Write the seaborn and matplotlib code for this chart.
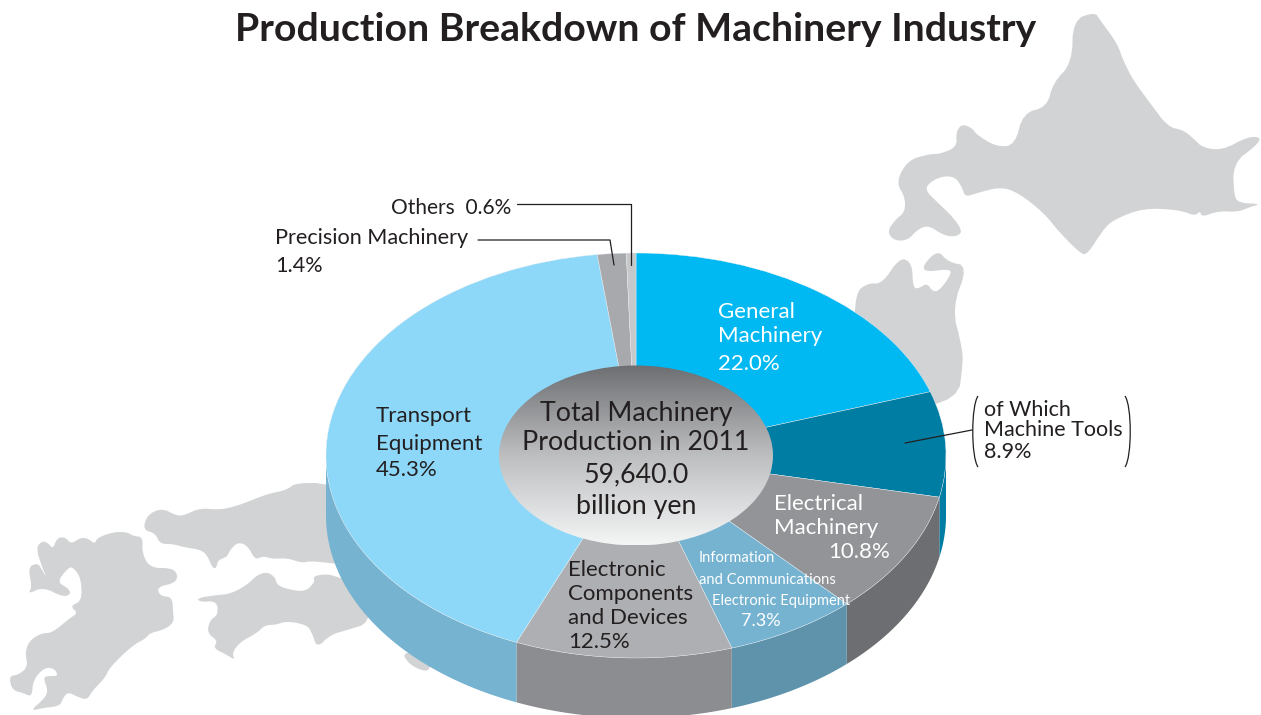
import matplotlib
matplotlib.use('Agg')
import matplotlib.pyplot as plt
from matplotlib.patches import Ellipse, Polygon, PathPatch
from matplotlib.path import Path
import seaborn as sns
import numpy as np

sns.set_theme(style='white')
plt.rcParams['font.family'] = ['Lato', 'DejaVu Sans']

# Segments clockwise from the top. Sizes are as drawn in the picture,
# the printed percentages are not quite what the slices show
segments = ['General Machinery', 'Machine Tools', 'Electrical Machinery', 'Information',
            'Electronic Components', 'Transport Equipment', 'Precision Machinery', 'Others']
drawn_share = [19.9, 8.4, 9.8, 6.9, 11.3, 41.7, 1.5, 0.5]
top_colors = ['#00b9f2', '#007da3', '#929497', '#76b3d1', '#adafb2', '#8dd8f8', '#a7a9ac', '#c7c8ca']
wall_colors = ['#00b9f2', '#007da3', '#6d6e71', '#5e93ab', '#8c8d91', '#76b3d1', '#a7a9ac', '#c7c8ca']

# Map outlines, traced in picture pixels
hokkaido = [(1073, 20), (1095, 12), (1100, 20), (1117, 43), (1123, 60), (1133, 80), (1150, 103), (1168, 127),
            (1183, 130), (1193, 138), (1203, 148), (1223, 150), (1247, 137), (1261, 137), (1257, 145), (1233, 163),
            (1234, 197), (1240, 203), (1261, 204), (1250, 207), (1238, 212), (1218, 211), (1202, 217), (1200, 211),
            (1195, 216), (1180, 210), (1143, 208), (1113, 220), (1103, 230), (1087, 255), (1080, 253), (1060, 233),
            (1043, 212), (1017, 192), (1000, 187), (977, 193), (965, 197), (962, 187), (955, 177), (943, 176),
            (930, 182), (925, 190), (937, 202), (953, 217), (963, 232), (955, 237), (943, 235), (928, 225),
            (917, 230), (908, 240), (895, 241), (887, 232), (895, 220), (905, 212), (905, 197), (896, 182),
            (908, 160), (930, 154), (940, 154), (957, 147), (956, 132), (962, 124), (972, 128), (977, 135),
            (997, 147), (1015, 145), (1023, 113), (1047, 107), (1053, 83), (1072, 63)]
honshu_north = [(855, 293), (868, 283), (882, 284), (900, 257), (912, 263), (913, 287), (918, 289), (927, 283),
                (933, 292), (940, 290), (952, 273), (948, 269), (925, 272), (923, 265), (938, 250), (948, 262),
                (968, 266), (952, 308), (962, 347), (963, 363), (958, 400), (900, 410), (855, 340)]
kyushu = [(36, 548), (42, 541), (48, 543), (53, 549), (57, 538), (65, 537), (71, 544), (80, 538), (87, 538),
          (95, 544), (97, 538), (113, 532), (127, 532), (133, 536), (143, 537), (142, 553), (150, 568), (172, 568),
          (178, 575), (175, 583), (157, 587), (160, 596), (172, 597), (173, 610), (174, 623), (163, 630), (150, 633),
          (145, 639), (133, 645), (110, 667), (105, 678), (93, 690), (87, 700), (78, 697), (68, 692), (63, 698),
          (60, 706), (43, 708), (30, 711), (45, 698), (48, 690), (43, 677), (50, 676), (58, 676), (55, 669),
          (45, 667), (33, 680), (32, 697), (23, 693), (12, 690), (9, 676), (18, 675), (28, 667), (25, 652),
          (30, 640), (42, 633), (52, 633), (70, 618), (78, 613), (70, 606), (82, 601), (81, 578), (73, 567),
          (68, 568), (57, 582), (68, 588), (71, 594), (63, 597), (43, 587), (28, 594), (32, 587), (28, 567),
          (38, 563), (42, 570), (47, 578), (42, 567)]
honshu_west = [(143, 530), (147, 515), (162, 508), (177, 516), (185, 515), (200, 508), (220, 510), (240, 505),
               (267, 494), (287, 490), (295, 483), (328, 483), (367, 503), (367, 567), (330, 563), (310, 561),
               (302, 563), (287, 558), (273, 559), (263, 556), (255, 560), (248, 546), (238, 542), (230, 550),
               (227, 557), (218, 560), (216, 569), (212, 567), (208, 557), (202, 550), (183, 547), (173, 544),
               (160, 544), (155, 533)]
shikoku = [(197, 598), (217, 595), (230, 594), (247, 585), (257, 575), (267, 572), (275, 577), (277, 585),
           (287, 589), (305, 592), (315, 582), (313, 576), (328, 574), (337, 577), (370, 587), (370, 623),
           (347, 630), (330, 635), (317, 648), (312, 633), (307, 625), (287, 621), (275, 625), (265, 625),
           (257, 633), (240, 642), (232, 653), (235, 660), (227, 655), (213, 648), (218, 641), (207, 633),
           (210, 620), (218, 615), (217, 601), (200, 602)]
kii = [(402, 652), (408, 663), (420, 670), (430, 671), (433, 650)]
islands = [hokkaido, honshu_north, kyushu, honshu_west, shikoku, kii]


def smooth(points, rounds=2):
    # corner cutting so the traced coast is not jagged
    pts = np.array(points, dtype=float)
    for _ in range(rounds):
        nxt = np.roll(pts, -1, axis=0)
        pts = np.column_stack([0.75 * pts + 0.25 * nxt, 0.25 * pts + 0.75 * nxt]).reshape(-1, 2)
    return pts


W, H = 1261, 715
CX, CY, RX, RY = 636, 455.5, 310, 202.5
DEPTH = 60 / RY

fig = plt.figure(figsize=(W / 100, H / 100), dpi=100)
bg = fig.add_axes([0, 0, 1, 1])
bg.set_xlim(0, W)
bg.set_ylim(H, 0)
bg.axis('off')

for island in islands:
    bg.add_patch(Polygon(smooth(island), closed=True, facecolor='#d1d3d4', edgecolor='none'))

# pie axes sits on the ellipse, so a unit circle turns into the tilted top
ax = fig.add_axes([(CX - RX) / W, 1 - (CY + RY) / H, 2 * RX / W, 2 * RY / H])
ax.patch.set_alpha(0)
wedges, _ = ax.pie(drawn_share, colors=top_colors, startangle=90, counterclock=False, radius=1,
                   wedgeprops={'clip_on': False, 'linewidth': 0.3, 'edgecolor': '#e8eef2', 'zorder': 3})

# side wall, only the part of each slice that faces the viewer
edges = np.cumsum([0] + drawn_share) / sum(drawn_share) * 2 * np.pi
for i, color in enumerate(wall_colors):
    start = max(edges[i], np.pi / 2)
    end = min(edges[i + 1], 3 * np.pi / 2)
    if start >= end:
        continue
    t = np.linspace(start, end, 80)
    xs = np.concatenate([np.sin(t), np.sin(t[::-1])])
    ys = np.concatenate([np.cos(t), np.cos(t[::-1]) - DEPTH])
    ax.fill(xs, ys, facecolor=color, edgecolor='none', clip_on=False, zorder=2)

# hub with the vertical gradient
hub_cmap = sns.blend_palette(['#6d6e71', '#bcbec0', '#f4f5f5'], as_cmap=True)
hub_rx, hub_ry = 137 / RX, 90 / RY
im = ax.imshow(np.linspace(0, 1, 256).reshape(-1, 1), extent=(-hub_rx, hub_rx, -hub_ry, hub_ry), cmap=hub_cmap,
               origin='upper', aspect='auto', zorder=4)
hub = Ellipse((0, 0), 2 * hub_rx, 2 * hub_ry, transform=ax.transData, facecolor='none', edgecolor='none')
ax.add_patch(hub)
im.set_clip_path(hub)

ax.set_aspect('auto')
ax.set_xlim(-1, 1)
ax.set_ylim(-1, 1)
ax.axis('off')

# text layer on top of everything
fg = fig.add_axes([0, 0, 1, 1])
fg.set_xlim(0, W)
fg.set_ylim(H, 0)
fg.axis('off')
fg.patch.set_alpha(0)

DARK = '#231f20'
fg.text(636, 41, 'Production Breakdown of Machinery Industry', ha='center', va='baseline', fontsize=28.3,
        fontweight='bold', color=DARK)


def label(x, lines, ys, size=16, color=DARK, ha='left'):
    for line, y in zip(lines, ys):
        fg.text(x, y + 1.5, line, ha=ha, va='center', fontsize=size, color=color)


label(511, ['Others  0.6%'], [207], size=15, ha='right')
label(275, ['Precision Machinery', '1.4%'], [237, 264], size=15.6)
label(718, ['General', 'Machinery', '22.0%'], [310, 335, 362], color='white')
label(376, ['Transport', 'Equipment', '45.3%'], [415, 442, 468])
label(636, ['Total Machinery', 'Production in 2011', '59,640.0', 'billion yen'], [412, 441, 473, 505], size=19.3, ha='center')
label(984, ['of Which', 'Machine Tools', '8.9%'], [408, 429, 451], size=15.5)
label(774, ['Electrical', 'Machinery'], [502, 526], color='white')
label(828, ['10.8%'], [550], color='white')
label(699, ['Information', 'and Communications'], [557, 579], size=10.6, color='white')
label(712, ['Electronic Equipment'], [600], size=10.5, color='white')
label(741, ['7.3%'], [620], size=13, color='white')
label(568, ['Electronic', 'Components', 'and Devices', '12.5%'], [568, 592, 617, 641])

# leader lines
fg.plot([517, 631, 631], [204, 204, 265], color=DARK, lw=0.9)
fg.plot([478, 610, 614], [240, 240, 265], color=DARK, lw=0.9)
fg.plot([905, 972], [443, 430], color=DARK, lw=0.9)

# brackets around the machine tools note
for x0, x1 in [(978, 971), (1125, 1132)]:
    verts = [(x0, 396), (x1, 406), (x1, 457), (x0, 467)]
    fg.add_patch(PathPatch(Path(verts, [Path.MOVETO, Path.CURVE4, Path.CURVE4, Path.CURVE4]),
                           facecolor='none', edgecolor=DARK, lw=0.9))

fig.savefig('out.png', dpi=100)
